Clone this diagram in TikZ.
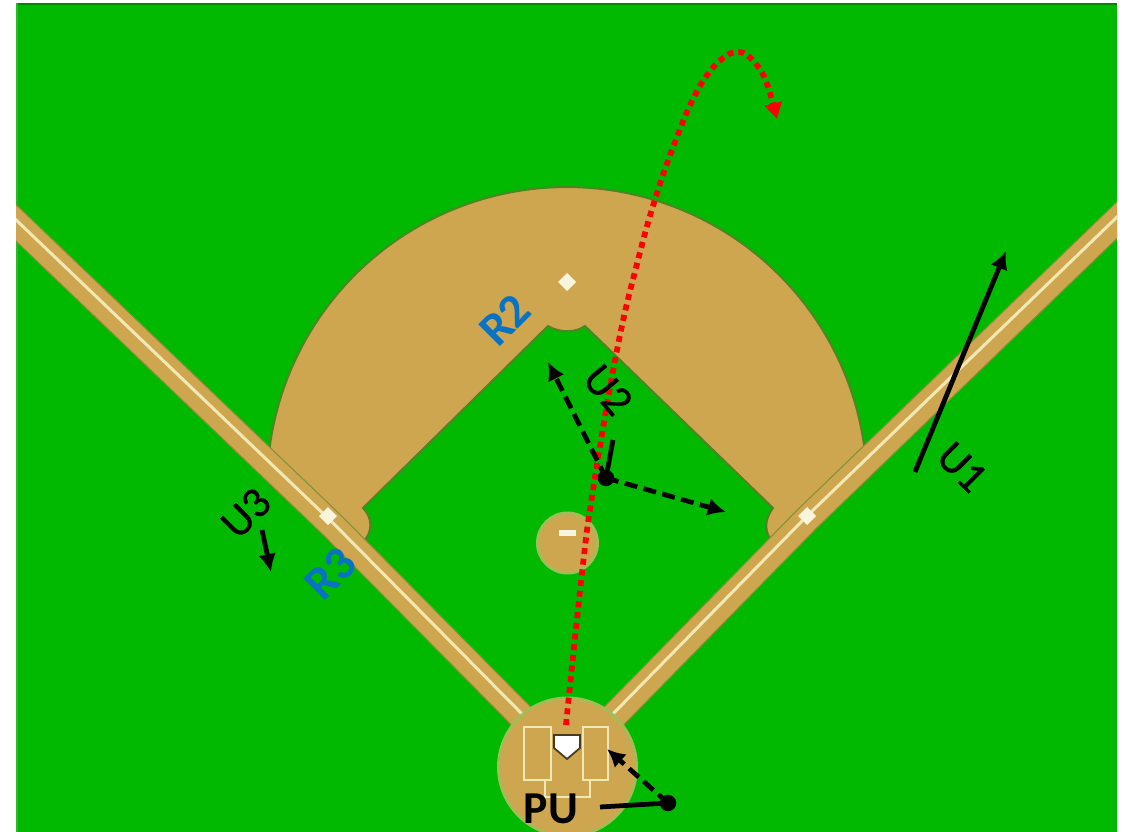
\documentclass[tikz,border=0pt]{standalone}
\usepackage{fontspec}
\usepackage{tikz}
\usetikzlibrary{arrows.meta}
\setmainfont{Carlito}
\newfontfamily\umpfont[FakeBold=0.8]{Carlito}
\definecolor{grass}{HTML}{00B900}
\definecolor{dirt}{HTML}{CFA650}
\definecolor{dirtedge}{HTML}{4F8425}
\definecolor{moundedge}{HTML}{A3BC58}
\definecolor{chalk}{HTML}{F1E8B4}
\definecolor{runner}{HTML}{0A72C2}
\definecolor{ball}{HTML}{FF0000}
\tikzset{
  umplabel/.style={font=\umpfont\fontsize{25}{28}\selectfont,text=black,inner sep=0pt},
  runlabel/.style={font=\bfseries\fontsize{27}{30}\selectfont,text=runner,inner sep=0pt},
  umpline/.style={line width=0.095cm},
  umpmove/.style={umpline,-{Latex[length=0.36cm,width=0.36cm]}},
  umpdash/.style={umpmove,dash pattern=on 0.26cm off 0.13cm},
  umpdot/.style={circle,fill=black,inner sep=0pt,minimum size=0.33cm},
  basebag/.style={fill=chalk!45!white},
  boxline/.style={draw=chalk,line width=0.055cm}
}

\begin{document}
\begin{tikzpicture}[x=0.02cm,y=-0.02cm,>=Latex]
  \def\HX{567}  % home plate x
  \def\FR{300}  % infield arc radius
  \useasboundingbox (0,0) rectangle (1127,832);

  % ================= field =================
  \begin{scope}
    \clip (16,3) rectangle (1117,832);
    \fill[grass] (16,3) rectangle (1117,832);
    \draw[green!45!black!70!grass,line width=0.05cm] (16,4) -- (1117,4);
    \draw[green!40!gray!60!grass,line width=0.05cm] (17,3) -- (17,832);

    % infield dirt
    \fill[dirt]
      plot[domain=173:7.6,samples=90] ({\HX+\FR*cos(\x)},{487-\FR*sin(\x)})
      -- (790,530) -- (773,543) .. controls (764,532) and (764,520) .. (773,508)
      -- (585,326) .. controls (575,333) and (560,333) .. (548,326)
      -- (363,508) .. controls (373,518) and (373,533) .. (362,543)
      -- (345,530) -- cycle;
    \draw[dirtedge,line width=0.04cm]
      plot[domain=173:7.6,samples=90] ({\HX+\FR*cos(\x)},{487-\FR*sin(\x)});
    \draw[dirtedge,line width=0.04cm]
      (773,543) .. controls (764,532) and (764,520) .. (773,508)
      -- (585,326) .. controls (575,333) and (560,333) .. (548,326)
      -- (363,508) .. controls (373,518) and (373,533) .. (362,543);

    % foul lines
    \foreach \c/\w in {dirtedge!60!dirt/0.55,dirt/0.5}{
      \draw[\c,line width=\w cm] (-10,198) -- (333,526) -- (530,725);
      \draw[\c,line width=\w cm] (1143,195) -- (807,519) -- (605,725);
    }
    \draw[chalk,line width=0.06cm] (-10,195) -- (333,523) -- (530,722);
    \draw[chalk,line width=0.06cm] (1143,192) -- (807,516) -- (605,722);

    % home circle and mound
    \draw[fill=dirt,draw=moundedge,line width=0.06cm] (567.5,767) circle[radius=69];
    \draw[fill=dirt,draw=moundedge,line width=0.06cm] (567.5,543) circle[radius=30];
    \fill[basebag] (559,530) rectangle (576,536);

    % bases
    \fill[basebag] (567,273) -- (576,282) -- (567,291) -- (558,282) -- cycle;
    \fill[basebag] (807,507) -- (816,516) -- (807,525) -- (798,516) -- cycle;
    \fill[basebag] (328,507) -- (337,516) -- (328,525) -- (319,516) -- cycle;

    % boxes and plate
    \draw[boxline] (524,727) rectangle (551,780);
    \draw[boxline] (583,727) rectangle (608,780);
    \draw[boxline] (545,780) -- (545,797) -- (590,797) -- (590,780);
    \draw[fill=white,draw=black!65!dirt,line width=0.035cm]
      (554,735) -- (580,735) -- (580,748) -- (567,759) -- (554,748) -- cycle;
  \end{scope}

  % ================= ball =================
  \draw[ball,line width=0.115cm,dash pattern=on 0.12cm off 0.095cm,
        -{Triangle[length=0.32cm,width=0.34cm]}]
    plot[smooth,tension=0.7] coordinates {(566,725) (582,573) (593,490) (617,350) (638,260)
      (657,193) (677,137) (694,97) (711,70) (726,56) (736,52.5) (747,55) (761,71) (769,90) (777,119)};

  % ================= U1 =================
  \coordinate (uonefrom) at (915,472);
  \coordinate (uoneto) at (1006,251);
  \draw[umpmove] (uonefrom) -- (uoneto);
  \node[umplabel,rotate=-45] (uone) at (962,467) {U1};

  % ================= U2 =================
  \node[umpdot] (utwo) at (606,478) {};
  \coordinate (utwoback) at (613,440);
  \coordinate (utwoleft) at (548,362);
  \coordinate (utworight) at (726,512);
  \draw[umpline] (utwo.center) -- (utwoback);
  \draw[umpdash] (utwo.center) -- (utwoleft);
  \draw[umpdash] (utwo.center) -- (utworight);
  \node[umplabel,rotate=-50] (utwotext) at (608,390) {U2};

  % ================= U3 =================
  \coordinate (uthreefrom) at (262,530);
  \coordinate (uthreeto) at (271,572);
  \draw[umpmove] (uthreefrom) -- (uthreeto);
  \node[umplabel,rotate=45] (uthree) at (246,513) {U3};

  % ================= runners =================
  \node[runlabel,rotate=45] (rtwo) at (505,320) {R2};
  \node[runlabel,rotate=45] (rthree) at (331,574) {R3};

  % ================= PU =================
  \node[umpdot] (pu) at (668,803) {};
  \coordinate (pubody) at (600,807);
  \coordinate (puto) at (607,749);
  \draw[umpline] (pu.center) -- (pubody);
  \draw[umpdash] (pu.center) -- (puto);
  \node[font=\bfseries\fontsize{26}{28}\selectfont,inner sep=0pt,anchor=base] (putext) at (551,823) {PU};
\end{tikzpicture}
\end{document}
